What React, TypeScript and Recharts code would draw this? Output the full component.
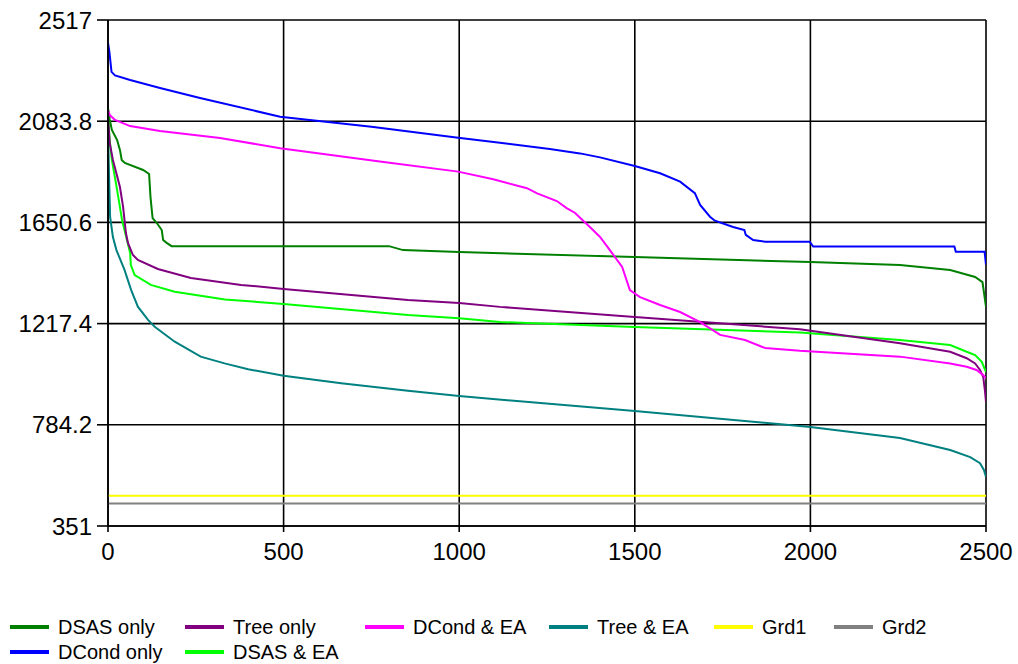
import { LineChart, Line, XAxis, YAxis, CartesianGrid } from 'recharts';

type Pt = [number, number];

const xTicks = [0, 500, 1000, 1500, 2000, 2500];
const yTicks = [351, 784.2, 1217.4, 1650.6, 2083.8, 2517];

const dsasOnly: Pt[] = [
  [0, 2140], [5, 2090], [11, 2046], [26, 2003], [34, 1961], [39, 1918], [48, 1905],
  [100, 1875], [117, 1858], [121, 1759], [127, 1669], [139, 1648], [153, 1618],
  [157, 1575], [167, 1563], [181, 1549], [800, 1549], [840, 1532], [1000, 1524],
  [1500, 1502], [2000, 1481], [2255, 1468], [2398, 1447], [2469, 1417], [2490, 1395],
  [2500, 1289],
];

const dcondOnly: Pt[] = [
  [0, 2420], [4, 2380], [10, 2295], [20, 2280], [63, 2260], [148, 2226], [262, 2183],
  [490, 2103], [750, 2060], [997, 2013], [1116, 1992], [1258, 1965], [1344, 1946],
  [1401, 1929], [1500, 1892], [1572, 1861], [1629, 1825], [1671, 1776], [1686, 1725],
  [1714, 1675], [1728, 1658], [1780, 1631], [1812, 1618], [1816, 1597], [1837, 1575],
  [1871, 1568], [1998, 1568], [2008, 1547], [2410, 1547], [2414, 1525], [2496, 1525],
  [2500, 1470],
];

const treeOnly: Pt[] = [
  [0, 2100], [5, 1990], [14, 1918], [34, 1802], [43, 1717], [51, 1605], [57, 1562],
  [71, 1511], [85, 1490], [142, 1451], [236, 1413], [379, 1383], [500, 1366],
  [854, 1318], [1000, 1306], [1116, 1289], [1500, 1246], [1970, 1193], [2255, 1133],
  [2398, 1097], [2445, 1069], [2469, 1047], [2483, 1019], [2492, 990], [2497, 930],
  [2500, 882],
];

const dsasEa: Pt[] = [
  [0, 2110], [5, 2000], [11, 1918], [26, 1789], [40, 1661], [54, 1575], [63, 1520],
  [65, 1468], [76, 1425], [122, 1383], [190, 1354], [333, 1321], [500, 1301],
  [854, 1254], [1000, 1240], [1116, 1224], [1500, 1203], [1970, 1179], [2255, 1147],
  [2398, 1126], [2445, 1097], [2469, 1083], [2488, 1054], [2500, 1010],
];

const dcondEa: Pt[] = [
  [0, 2130], [5, 2110], [20, 2089], [63, 2063], [148, 2042], [319, 2012], [490, 1968],
  [774, 1911], [997, 1868], [1097, 1835], [1193, 1797], [1222, 1775], [1278, 1742],
  [1306, 1712], [1330, 1691], [1372, 1631], [1401, 1588], [1429, 1532], [1464, 1460],
  [1486, 1361], [1515, 1331], [1572, 1297], [1629, 1267], [1686, 1224], [1743, 1169],
  [1814, 1147], [1871, 1113], [1970, 1101], [2255, 1076], [2398, 1047], [2445, 1033],
  [2473, 1019], [2492, 997], [2500, 984],
];

const treeEa: Pt[] = [
  [0, 2050], [3, 1850], [6, 1674], [14, 1588], [24, 1532], [47, 1447], [66, 1361],
  [85, 1290], [114, 1233], [133, 1204], [190, 1140], [264, 1076], [332, 1047],
  [399, 1022], [500, 994], [664, 962], [854, 930], [1000, 907], [1500, 843],
  [2000, 775], [2255, 728], [2398, 676], [2455, 646], [2483, 620], [2494, 591],
  [2500, 561],
];

const grd1: Pt[] = [[0, 480], [2500, 480]];
const grd2: Pt[] = [[0, 447], [2500, 447]];

const series = [
  { name: 'Grd2', color: '#808080', pts: grd2 },
  { name: 'Grd1', color: '#ffff00', pts: grd1 },
  { name: 'Tree & EA', color: '#008080', pts: treeEa },
  { name: 'DSAS & EA', color: '#00ff00', pts: dsasEa },
  { name: 'Tree only', color: '#800080', pts: treeOnly },
  { name: 'DSAS only', color: '#008000', pts: dsasOnly },
  { name: 'DCond & EA', color: '#ff00ff', pts: dcondEa },
  { name: 'DCond only', color: '#0000ff', pts: dcondOnly },
];

// legend slots: [left, vertical centre] of each entry
const legendSlots: Record<string, [number, number]> = {
  'DSAS only': [10, 627],
  'Tree only': [185, 627],
  'DCond & EA': [365, 627],
  'Tree & EA': [549, 627],
  Grd1: [714, 627],
  Grd2: [834, 627],
  'DCond only': [10, 652],
  'DSAS & EA': [185, 652],
};

const font = '"Liberation Sans", Arial, sans-serif';

const toRows = (pts: Pt[]) => pts.map(([x, y]) => ({ x, y }));

export default function App() {
  return (
    <div style={{ position: 'absolute', left: 0, top: 0, width: 1018, height: 664, background: '#fff' }}>
      <LineChart width={1018} height={580} margin={{ top: 20, right: 32, left: 0, bottom: 0 }}>
        <CartesianGrid stroke="#000" strokeWidth={1.6} />
        <XAxis
          type="number"
          dataKey="x"
          domain={[0, 2500]}
          ticks={xTicks}
          interval={0}
          height={54}
          tickSize={6}
          tickMargin={11}
          stroke="#000"
          strokeWidth={1.6}
          tick={{ fill: '#000', fontSize: 24, fontFamily: font }}
          allowDataOverflow
        />
        <YAxis
          type="number"
          domain={[351, 2517]}
          ticks={yTicks}
          interval={0}
          width={108}
          tickSize={11}
          tickMargin={5}
          stroke="#000"
          strokeWidth={1.6}
          tick={{ fill: '#000', fontSize: 24, fontFamily: font }}
          allowDataOverflow
        />
        {series.map((s) => (
          <Line
            key={s.name}
            data={toRows(s.pts)}
            dataKey="y"
            name={s.name}
            type="linear"
            stroke={s.color}
            strokeWidth={2}
            dot={false}
            isAnimationActive={false}
          />
        ))}
      </LineChart>
      {series.map((s) => {
        const [left, top] = legendSlots[s.name];
        return (
          <div
            key={s.name}
            style={{
              position: 'absolute',
              left,
              top: top - 12,
              height: 24,
              display: 'flex',
              alignItems: 'center',
              fontFamily: font,
              fontSize: 20,
              color: '#000',
              whiteSpace: 'nowrap',
            }}
          >
            <span style={{ display: 'inline-block', width: 39, height: 4, background: s.color, marginRight: 9 }} />
            {s.name}
          </div>
        );
      })}
    </div>
  );
}
